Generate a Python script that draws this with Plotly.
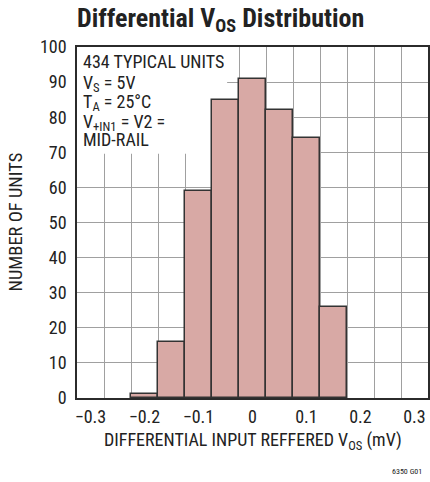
import plotly.graph_objects as go

# Data
bin_centers = [-0.2, -0.15, -0.1, -0.05, 0.0, 0.05, 0.1, 0.15]
unit_counts = [1, 16, 59, 85, 91, 82, 74, 26]
bin_width = 0.05
x_tick_vals = [-0.3, -0.2, -0.1, 0.0, 0.1, 0.2, 0.3]
x_tick_text = ["\u22120.3", "\u22120.2", "\u22120.1", "0", "0.1", "0.2", "0.3"]
y_tick_vals = [0, 10, 20, 30, 40, 50, 60, 70, 80, 90, 100]
info_lines = ["434 TYPICAL UNITS", "V<sub>S</sub> = 5V", "T<sub>A</sub> = 25°C",
              "V<sub>+IN1</sub> = V2 =", "MID-RAIL"]

FONT = "Liberation Sans Narrow, Roboto Condensed, Arial Narrow, sans-serif"
GRID = "#a0a0a0"
DARK = "#2b2b2b"
TXT = "#222222"

fig = go.Figure()
fig.add_trace(go.Bar(
    x=bin_centers, y=unit_counts, width=[bin_width] * len(bin_centers),
    marker=dict(color="#d8a9a5", line=dict(color="#333333", width=1.5)),
    showlegend=False, hoverinfo="skip"))

fig.update_layout(
    template="none",
    width=430, height=482,
    margin=dict(l=77, r=2, t=47, b=84, pad=0),
    paper_bgcolor="white", plot_bgcolor="white",
    font=dict(family=FONT, color=TXT, size=18),
    bargap=0,
    xaxis=dict(range=[-0.325, 0.325], tickmode="array", tickvals=x_tick_vals, ticktext=x_tick_text,
               showgrid=False, zeroline=False, automargin=False,
               minor=dict(tick0=-0.325, dtick=0.05, showgrid=True, gridcolor=GRID, gridwidth=1, ticks=""),
               showline=True, linecolor=DARK, linewidth=1.5, mirror=True, ticks="",
               ticklabelstandoff=2, tickfont=dict(size=18, family=FONT, color=TXT)),
    yaxis=dict(range=[0, 100], tickmode="array", tickvals=y_tick_vals,
               showgrid=True, gridcolor=GRID, gridwidth=1, zeroline=False, automargin=False,
               showline=True, linecolor=DARK, linewidth=1.5, mirror=True, ticks="",
               ticklabelstandoff=5, tickfont=dict(size=18, family=FONT, color=TXT)),
)

fig.add_shape(type="rect", xref="x", yref="y", x0=-0.325, x1=-0.047, y0=69.6, y1=100,
              fillcolor="white", line=dict(width=0), layer="between")

for i, line in enumerate(info_lines):
    extra = 2 if "<sub>" in line else 0
    fig.add_annotation(text=line, xref="paper", yref="paper", x=0, xshift=4, y=1,
                       yshift=-(14.5 + 19.6 * i + extra),
                       xanchor="left", yanchor="middle", align="left", showarrow=False,
                       height=19, valign="middle",
                       font=dict(size=18, family=FONT, color=TXT))

fig.add_annotation(text="<b>Differential V<sub>OS</sub> Distribution</b>", xref="paper", yref="paper",
                   x=0.5, xshift=-32.5, y=1, yshift=28, xanchor="center", yanchor="middle",
                   showarrow=False, font=dict(size=26, family=FONT, color=TXT))
fig.add_annotation(text="DIFFERENTIAL INPUT REFFERED V<sub>OS</sub> (mV)", xref="paper", yref="paper",
                   x=0.5, y=0, yshift=-43, xanchor="center", yanchor="middle", showarrow=False,
                   font=dict(size=18, family=FONT, color=TXT))
fig.add_annotation(text="NUMBER OF UNITS", xref="paper", yref="paper", textangle=-90,
                   x=0, xshift=-62, y=0.5, xanchor="center", yanchor="middle", showarrow=False,
                   font=dict(size=18.5, family=FONT, color=TXT))
fig.add_annotation(text="6350 G01", xref="paper", yref="paper",
                   x=1, xshift=-4, y=0, yshift=-73, xanchor="right", yanchor="middle", showarrow=False,
                   font=dict(size=8, family=FONT, color=TXT))

fig.write_html("out.html", config={"displayModeBar": False},
               post_script="document.body.style.margin='0px';")
